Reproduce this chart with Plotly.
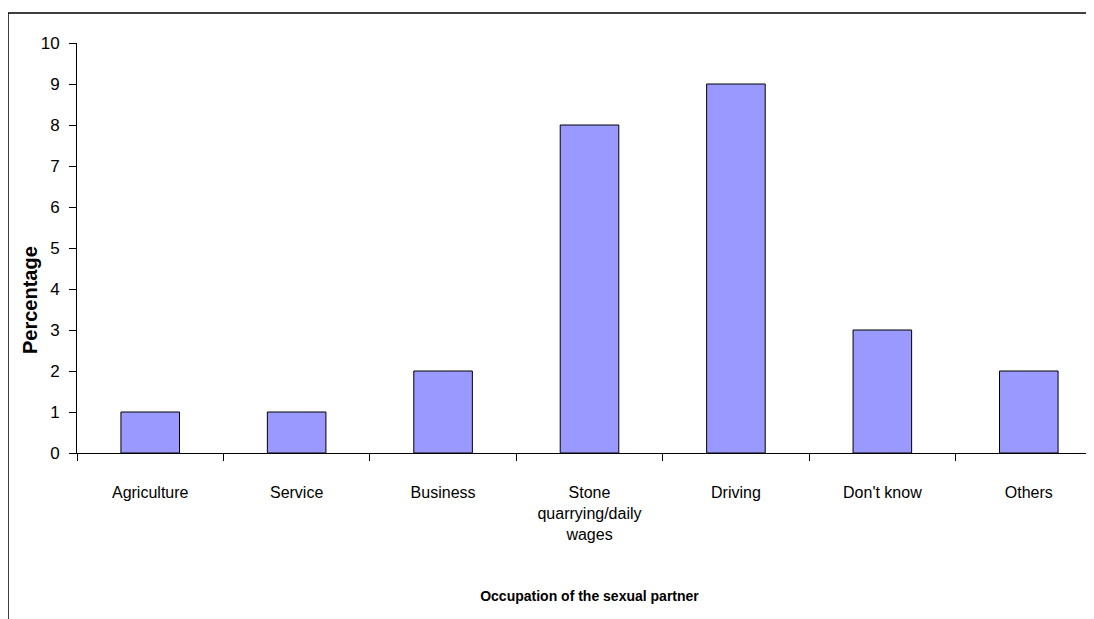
import plotly.graph_objects as go

categories = ["Agriculture", "Service", "Business", "Stone<br>quarrying/daily<br>wages",
              "Driving", "Don't know", "Others"]
percentages = [1, 1, 2, 8, 9, 3, 2]
y_ticks = list(range(0, 11))

FONT = "Liberation Sans Narrow, Arial Narrow, Liberation Sans, Arial, sans-serif"

fig = go.Figure()
fig.add_trace(go.Bar(
    x=categories, y=percentages,
    marker=dict(color="#9999FF", line=dict(color="#000000", width=1)),
    width=0.4,
))

fig.update_layout(
    width=1094, height=619,
    margin=dict(l=69, r=0, t=35, b=174),
    paper_bgcolor="white", plot_bgcolor="white",
    showlegend=False,
    font=dict(family=FONT, color="#000000"),
    xaxis=dict(
        type="category",
        range=[-0.5, 6.5],
        showline=True, linecolor="#000000", linewidth=1,
        ticks="outside", ticklen=7, tickcolor="#000000", tickson="boundaries",
        showgrid=False, zeroline=False,
        tickfont=dict(size=16, family=FONT),
        ticklabelstandoff=25,
        title=dict(text="<b>Occupation of the sexual partner</b>",
                   font=dict(size=14, family=FONT), standoff=49),
    ),
    yaxis=dict(
        range=[0, 10],
        tickvals=y_ticks,
        showline=True, linecolor="#000000", linewidth=1,
        ticks="outside", ticklen=7, tickcolor="#000000",
        showgrid=False, zeroline=False,
        tickfont=dict(size=17, family=FONT),
        ticklabelstandoff=6,
    ),
    annotations=[
        dict(text="<b>Percentage</b>", textangle=-90,
             xref="paper", yref="paper", x=-0.0459, y=0.373,
             xanchor="center", yanchor="middle", showarrow=False,
             font=dict(size=20, family="Liberation Sans, Arial, sans-serif", color="#000000")),
    ],
    shapes=[
        dict(type="line", xref="paper", yref="paper",
             x0=-0.0673, x1=-0.0673, y0=1.0732, y1=-0.45,
             line=dict(color="#000000", width=1.5)),
        dict(type="line", xref="paper", yref="paper",
             x0=-0.0673, x1=1.01, y0=1.0732, y1=1.0732,
             line=dict(color="#000000", width=1.5)),
    ],
)

fig.write_html("out.html")
